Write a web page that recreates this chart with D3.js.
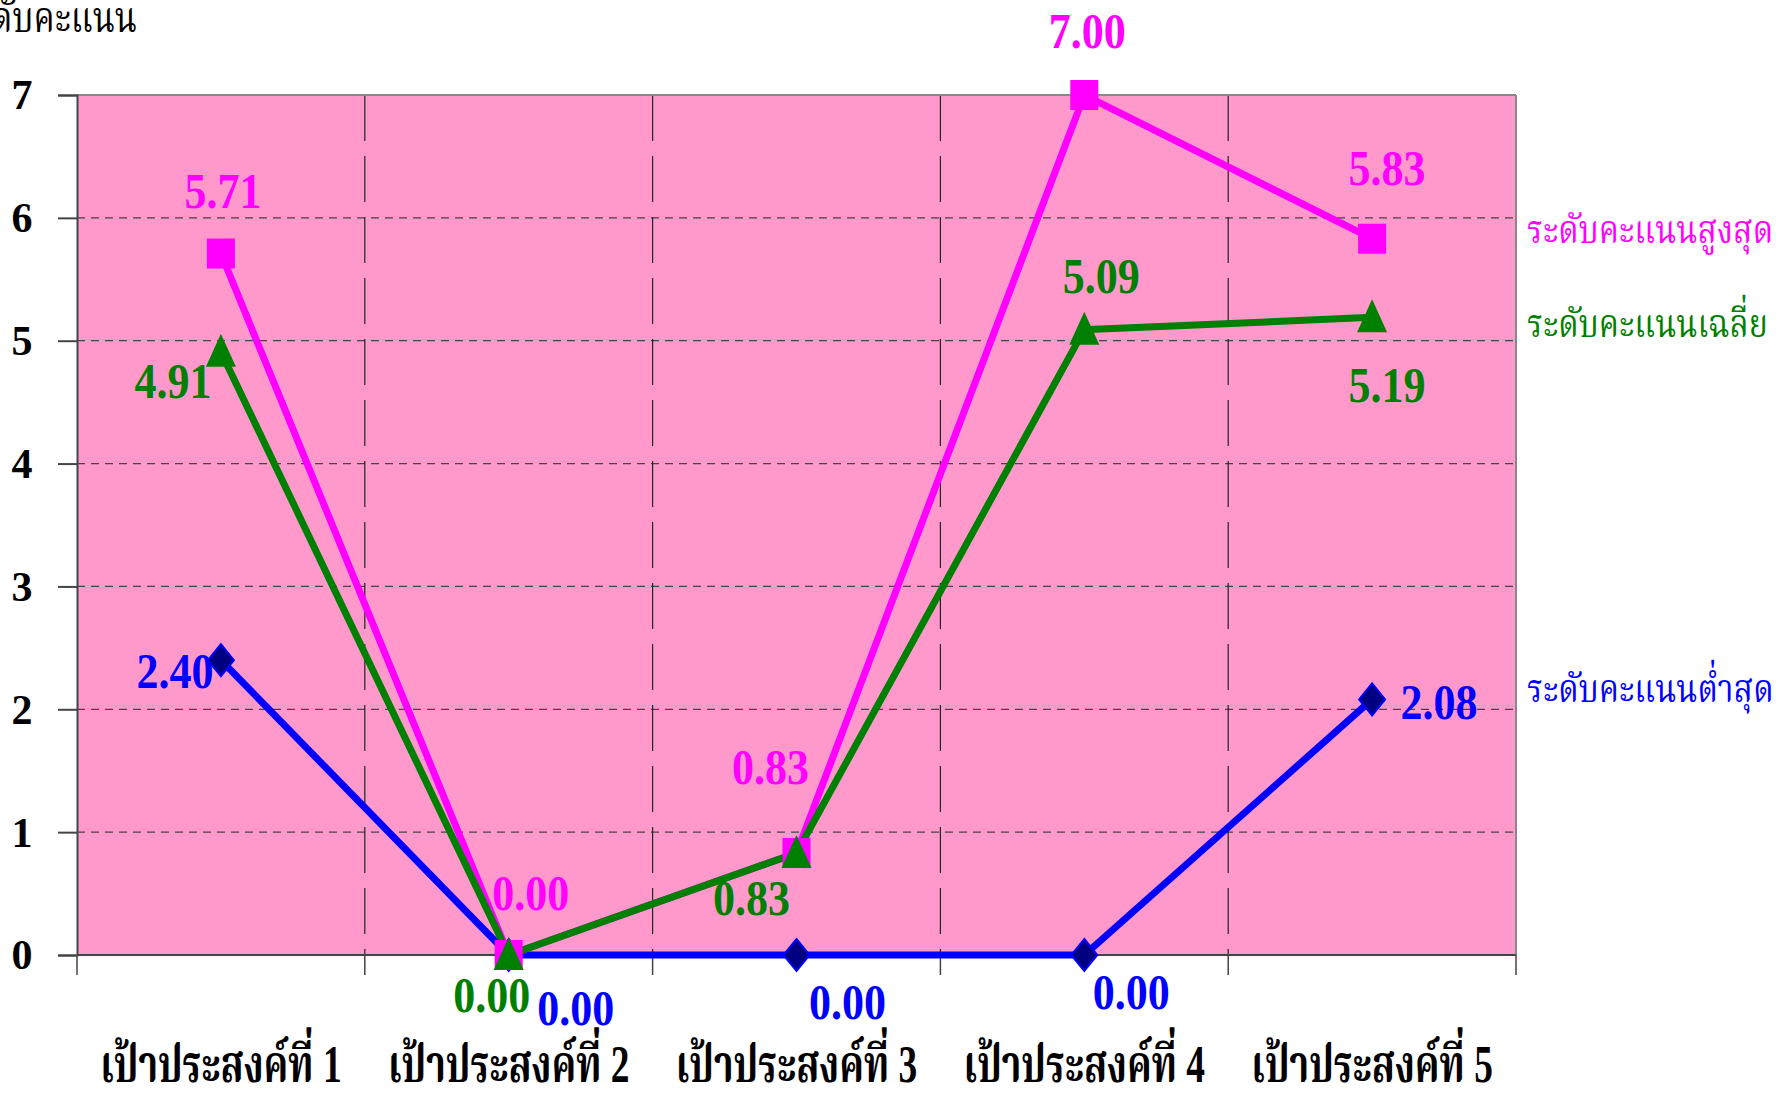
<!DOCTYPE html>
<html><head><meta charset="utf-8">
<script src="https://cdn.jsdelivr.net/npm/d3@7"></script>
<style>
html,body{margin:0;padding:0;background:#fff;overflow:hidden;}
svg{display:block;}
</style></head>
<body>
<script>
// ---- data ----
const categories = ["เป้าประสงค์ที่ 1","เป้าประสงค์ที่ 2","เป้าประสงค์ที่ 3","เป้าประสงค์ที่ 4","เป้าประสงค์ที่ 5"];
const maxValues = [5.71, 0.00, 0.83, 7.00, 5.83];
const avgValues = [4.91, 0.00, 0.83, 5.09, 5.19];
const minValues = [2.40, 0.00, 0.00, 0.00, 2.08];
const yTicks = [0,1,2,3,4,5,6,7];
const seriesNames = ["ระดับคะแนนสูงสุด","ระดับคะแนนเฉลี่ย","ระดับคะแนนต่ำสุด"];
const yTitle = "ระดับคะแนน";

// ---- layout ----
const W = 1783, H = 1100;
const L = 77, R = 1516, T = 95, B = 955;
const svg = d3.select("body").append("svg").attr("width", W).attr("height", H);

const x = d3.scaleBand().domain(categories).range([L, R]).padding(0);
const y = d3.scaleLinear().domain([0, 7]).range([B, T]);
const cx = c => x(c) + x.bandwidth() / 2;

const numFont = "'Liberation Serif','Times New Roman',serif";
const thaiFont = "'Liberation Serif','Noto Serif Thai','Noto Sans Thai',serif";

// plot background
svg.append("rect").attr("x", L).attr("y", T).attr("width", R - L).attr("height", B - T).attr("fill", "#ff99cc");

// horizontal gridlines
svg.append("g").selectAll("line").data(yTicks.filter(t => t > 0 && t < 7)).join("line")
  .attr("x1", L).attr("x2", R).attr("y1", d => y(d)).attr("y2", d => y(d))
  .attr("stroke", "#444").attr("stroke-width", 1.2).attr("stroke-dasharray", "8,6");

// vertical category separators
const seps = categories.slice(1).map(c => x(c));
svg.append("g").selectAll("line").data(seps).join("line")
  .attr("x1", d => d).attr("x2", d => d).attr("y1", T).attr("y2", B)
  .attr("stroke", "#222").attr("stroke-width", 1.2).attr("stroke-dasharray", "46,15");

// top and right border
svg.append("line").attr("x1", L).attr("x2", R).attr("y1", T).attr("y2", T).attr("stroke", "#888").attr("stroke-width", 2);
svg.append("line").attr("x1", R).attr("x2", R).attr("y1", T).attr("y2", B).attr("stroke", "#888").attr("stroke-width", 2);

// y axis
const yAxis = d3.axisLeft(y).tickValues(yTicks).tickSize(19).tickFormat(d3.format("d"));
const gy = svg.append("g").attr("transform", `translate(${L},0)`).call(yAxis);
gy.select(".domain").attr("stroke", "#444").attr("stroke-width", 2);
gy.selectAll(".tick line").attr("stroke", "#444").attr("stroke-width", 2);
gy.selectAll(".tick text").attr("x", -55).attr("dy", "0.33em").attr("text-anchor", "middle")
  .attr("font-family", numFont).attr("font-weight", "bold").attr("font-size", 42).attr("fill", "#000");

// x axis (bottom) with ticks at boundaries
svg.append("line").attr("x1", L).attr("x2", R).attr("y1", B).attr("y2", B).attr("stroke", "#444").attr("stroke-width", 2);
const bounds = categories.map(c => x(c)).concat([R]);
svg.append("g").selectAll("line").data(bounds).join("line")
  .attr("x1", d => d).attr("x2", d => d).attr("y1", B).attr("y2", B + 20)
  .attr("stroke", "#444").attr("stroke-width", 1.5);

// category labels
svg.append("g").selectAll("text").data(categories).join("text")
  .attr("transform", d => `translate(${cx(d)},1082) scale(0.72,1)`).attr("text-anchor", "middle")
  .attr("font-family", thaiFont).attr("font-weight", "bold").attr("font-size", 52).attr("fill", "#000")
  .text(d => d);

// y title (clipped at left edge, as in the original)
svg.append("text").attr("transform", "translate(137,32) scale(0.8,1)").attr("text-anchor", "end")
  .attr("font-family", thaiFont).attr("font-size", 42).attr("fill", "#000").text(yTitle);

// ---- series ----
const series = [
  {name: seriesNames[2], values: minValues, color: "#0000ff", shape: "diamond", fill: "#000080",
   labelOff: [[-46,28],[67,70],[51,64],[47,54],[67,20]]},
  {name: seriesNames[0], values: maxValues, color: "#ff00ff", shape: "square", fill: "#ff00ff",
   labelOff: [[2,-45],[22,-45],[-26,-69],[3,-47],[15,-54]]},
  {name: seriesNames[1], values: avgValues, color: "#008000", shape: "triangle", fill: "#008000",
   labelOff: [[-48,46],[-17,57],[-45,62],[17,-37],[15,85]]}
];

const line = d3.line().x((d, i) => cx(categories[i])).y(d => y(d));

series.forEach(s => {
  svg.append("path").attr("d", line(s.values)).attr("fill", "none")
    .attr("stroke", s.color).attr("stroke-width", 7).attr("stroke-linejoin", "miter");
});

series.forEach(s => {
  const g = svg.append("g");
  s.values.forEach((v, i) => {
    const px = cx(categories[i]), py = y(v);
    if (s.shape === "square") {
      g.append("rect").attr("x", px - 14).attr("y", py - 15).attr("width", 28).attr("height", 30).attr("fill", s.fill);
    } else if (s.shape === "triangle") {
      g.append("path").attr("d", `M${px},${py - 18}L${px + 15},${py + 15}L${px - 15},${py + 15}Z`).attr("fill", s.fill);
    } else {
      g.append("path").attr("d", `M${px},${py - 16}L${px + 13},${py}L${px},${py + 16}L${px - 13},${py}Z`)
        .attr("fill", s.fill).attr("stroke", s.color).attr("stroke-width", 2);
    }
  });
});

// data labels
series.forEach(s => {
  s.values.forEach((v, i) => {
    const px = cx(categories[i]) + s.labelOff[i][0], py = y(v) + s.labelOff[i][1];
    svg.append("text").attr("transform", `translate(${px},${py}) scale(0.88,1)`)
      .attr("text-anchor", "middle").attr("font-family", numFont).attr("font-weight", "bold")
      .attr("font-size", 50).attr("fill", s.color).text(d3.format(".2f")(v));
  });
});

// series name labels at right
const legendY = [y(maxValues[4]) + 4, y(avgValues[4]) + 20, y(minValues[4]) + 3];
[[seriesNames[0], "#ff00ff"], [seriesNames[1], "#008000"], [seriesNames[2], "#0000ff"]].forEach((d, i) => {
  svg.append("text").attr("transform", `translate(1527,${legendY[i]}) scale(0.8,1)`).attr("font-family", thaiFont)
    .attr("font-size", 40).attr("fill", d[1]).text(d[0]);
});
</script>
</body></html>
